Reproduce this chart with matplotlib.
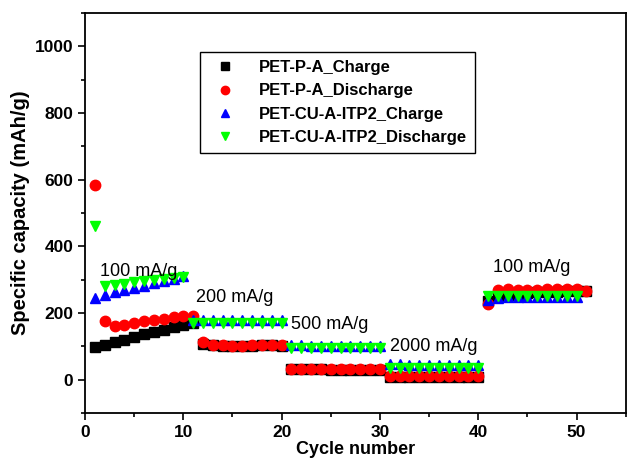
import matplotlib
matplotlib.use("Agg")
import matplotlib.pyplot as plt
from matplotlib.ticker import MultipleLocator

plt.rcParams['font.family'] = ['Liberation Sans', 'DejaVu Sans']
plt.rcParams['font.weight'] = 'bold'

# cycle numbers
cyc_a = list(range(1, 52))
cyc_b = list(range(1, 51))

# PET-P-A
pa_charge = [97, 105, 112, 120, 128, 136, 143, 150, 158, 165,
             170, 108, 104, 102, 101, 101, 102, 103, 103, 102,
             32, 31, 31, 31, 30, 30, 30, 30, 30, 30,
             8, 7, 7, 7, 7, 7, 7, 7, 7, 7,
             235, 250, 255, 258, 260, 262, 263, 264, 265, 265, 265]
pa_discharge = [583, 175, 162, 165, 170, 175, 180, 183, 187, 190,
                192, 112, 105, 103, 102, 102, 103, 104, 104, 103,
                33, 32, 32, 32, 31, 31, 31, 31, 31, 31,
                11, 10, 10, 10, 10, 10, 10, 10, 10, 10,
                228, 268, 272, 270, 270, 270, 272, 272, 272, 273, 265]

# PET-CU-A-ITP2
cu_charge = [245, 255, 262, 268, 275, 282, 290, 296, 303, 310,
             178, 178, 178, 178, 178, 178, 178, 178, 178, 178,
             103, 103, 102, 102, 102, 101, 101, 101, 101, 101,
             46, 46, 45, 45, 45, 45, 45, 45, 45, 45,
             240, 246, 248, 248, 248, 248, 248, 248, 248, 248]
cu_discharge = [460, 282, 285, 288, 292, 296, 300, 303, 306, 308,
                170, 170, 170, 170, 170, 170, 170, 170, 170, 170,
                96, 95, 95, 95, 94, 94, 94, 94, 94, 94,
                36, 36, 36, 36, 36, 36, 36, 36, 36, 36,
                252, 252, 251, 250, 250, 250, 250, 250, 250, 250]

rates = ["100 mA/g", "200 mA/g", "500 mA/g", "2000 mA/g", "100 mA/g"]
rate_x = [1.5, 11.3, 21.0, 31.0, 41.5]
rate_y = [312, 232, 152, 86, 322]

fig = plt.figure(figsize=(6.27, 4.65), dpi=100)
ax = fig.add_axes([0.1356, 0.112, 0.8624, 0.86])

ms = 7.5
ax.plot(cyc_a, pa_charge, 's', color='black', ms=ms, label='PET-P-A_Charge')
ax.plot(cyc_a, pa_discharge, 'o', color='red', ms=ms, label='PET-P-A_Discharge')
ax.plot(cyc_b, cu_charge, '^', color='blue', ms=ms, label='PET-CU-A-ITP2_Charge')
ax.plot(cyc_b, cu_discharge, 'v', color='#00ff00', ms=ms, label='PET-CU-A-ITP2_Discharge')

for t, x, y in zip(rates, rate_x, rate_y):
    ax.text(x, y, t, fontsize=13, fontweight='normal')

ax.set_xlim(0, 55)
ax.set_ylim(-100, 1100)
ax.set_yticks([0, 200, 400, 600, 800, 1000])
ax.set_xticks([0, 10, 20, 30, 40, 50])
ax.xaxis.set_minor_locator(MultipleLocator(5))
ax.yaxis.set_minor_locator(MultipleLocator(100))
ax.tick_params(which='major', length=5, width=1.2, labelsize=12.5)
ax.tick_params(which='minor', length=3, width=1.2)
for s in ax.spines.values():
    s.set_linewidth(1.3)

ax.set_xlabel('Cycle number', fontsize=13, fontweight='bold', labelpad=1)
ax.set_ylabel('Specific capacity (mAh/g)', fontsize=14.5, fontweight='bold', labelpad=3)

leg = ax.legend(loc='upper left', bbox_to_anchor=(0.213, 0.903), fontsize=12,
                fancybox=False, edgecolor='black', framealpha=1,
                handletextpad=1.0, labelspacing=0.5, markerscale=0.8,
                borderpad=0.5, borderaxespad=0)
leg.get_frame().set_linewidth(1.0)
for t in leg.get_texts():
    t.set_fontweight('bold')

fig.savefig('out.png', dpi=100)
